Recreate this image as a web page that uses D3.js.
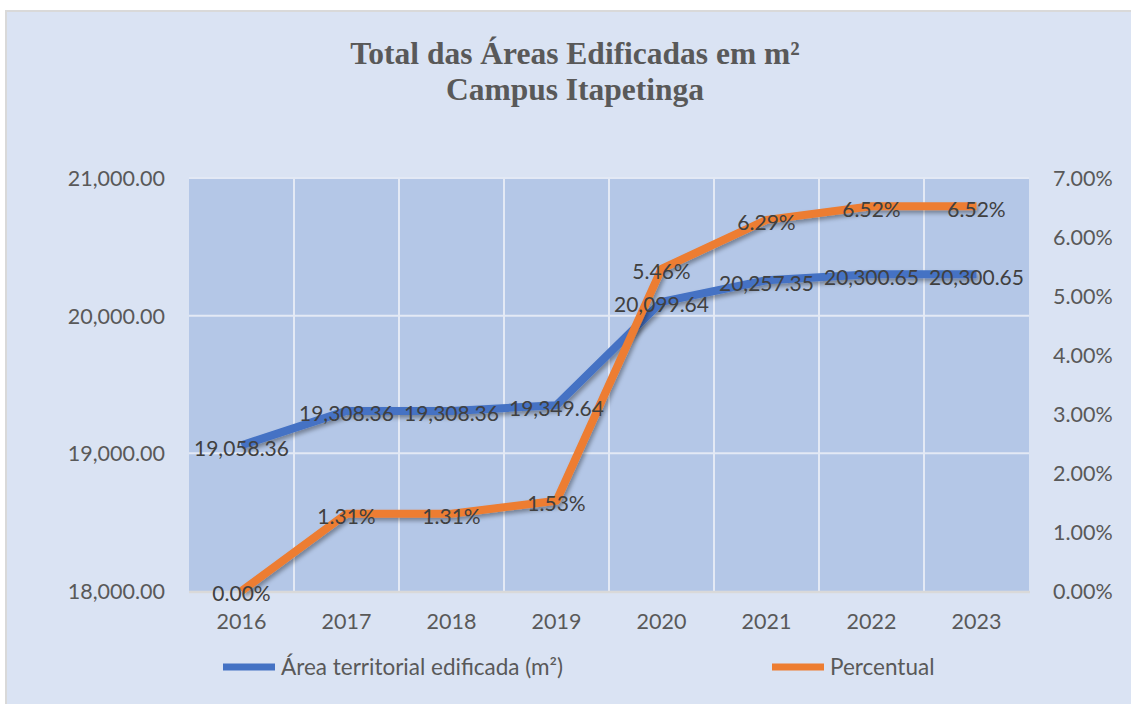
<!DOCTYPE html>
<html><head><meta charset="utf-8">
<script src="https://cdn.jsdelivr.net/npm/d3@7"></script>
<style>
html,body{margin:0;padding:0;background:#fff;}
svg{display:block;}
</style></head>
<body>
<svg id="chart" width="1131" height="704"></svg>
<script>
const categories = ["2016","2017","2018","2019","2020","2021","2022","2023"];
const areaValues = [19058.36, 19308.36, 19308.36, 19349.64, 20099.64, 20257.35, 20300.65, 20300.65];
const percentValues = [0.00, 1.31, 1.31, 1.53, 5.46, 6.29, 6.52, 6.52];
const leftTicks = [18000, 19000, 20000, 21000];
const rightTicks = [0, 1, 2, 3, 4, 5, 6, 7];
const titleLines = ["Total das Áreas Edificadas em m²", "Campus Itapetinga"];
const seriesNames = ["Área territorial edificada (m²)", "Percentual"];

const svg = d3.select("#chart");
const W = 1131, H = 704;
const plot = {left: 189, right: 1029, top: 178, bottom: 591};
const font = "Lato, 'Open Sans', sans-serif";
const fs = 21.5;

// defs: shadow
const defs = svg.append("defs");
const f = defs.append("filter").attr("id","shadow").attr("x","-10%").attr("y","-10%").attr("width","130%").attr("height","130%");
f.append("feDropShadow").attr("dx",2).attr("dy",3).attr("stdDeviation",2.2).attr("flood-color","#000").attr("flood-opacity",0.35);

// chart background
svg.append("rect").attr("x",6).attr("y",11).attr("width",W).attr("height",H)
  .attr("fill","#DAE3F3").attr("stroke","#D9D9D9").attr("stroke-width",2);

// title
svg.append("g").selectAll("text").data(titleLines).join("text")
  .attr("x",575).attr("y",(d,i)=>64+i*36)
  .attr("text-anchor","middle")
  .attr("font-family","'Liberation Serif','Times New Roman',serif")
  .attr("font-weight","bold").attr("font-size",31.5).attr("fill","#595959")
  .text(d=>d);

const x = d3.scaleBand().domain(categories).range([plot.left, plot.right]).padding(0);
const yL = d3.scaleLinear().domain([18000, 21000]).range([plot.bottom, plot.top]);
const yR = d3.scaleLinear().domain([0, 7]).range([plot.bottom, plot.top]);

// plot area
svg.append("rect").attr("x",plot.left).attr("y",plot.top)
  .attr("width",plot.right-plot.left).attr("height",plot.bottom-plot.top)
  .attr("fill","#B4C7E7");

// gridlines
const grid = svg.append("g").attr("stroke","#E3E9F5").attr("stroke-width",2);
grid.selectAll("line.h").data(leftTicks.slice(1)).join("line")
  .attr("x1",plot.left).attr("x2",plot.right)
  .attr("y1",d=>yL(d)).attr("y2",d=>yL(d));
grid.selectAll("line.v").data(categories.slice(1)).join("line")
  .attr("x1",d=>x(d)).attr("x2",d=>x(d))
  .attr("y1",plot.top).attr("y2",plot.bottom);

// bottom axis line
svg.append("line").attr("x1",plot.left).attr("x2",plot.right+1)
  .attr("y1",plot.bottom+1).attr("y2",plot.bottom+1)
  .attr("stroke","#D9D9D9").attr("stroke-width",2.5);

// left axis
const leftAxis = svg.append("g").attr("transform",`translate(${plot.left},0)`)
  .call(d3.axisLeft(yL).tickValues(leftTicks).tickFormat(d3.format(",.2f")).tickSize(0).tickPadding(24));
leftAxis.select(".domain").remove();
leftAxis.selectAll("text").attr("font-family",font).attr("font-size",fs).attr("fill","#595959").attr("dy","0.35em");

// right axis
const rightAxis = svg.append("g").attr("transform",`translate(${plot.right},0)`)
  .call(d3.axisRight(yR).tickValues(rightTicks).tickFormat(d=>d3.format(".2f")(d)+"%").tickSize(0).tickPadding(24));
rightAxis.select(".domain").remove();
rightAxis.selectAll("text").attr("font-family",font).attr("font-size",fs).attr("fill","#595959").attr("dy","0.35em");

// bottom axis
const bottomAxis = svg.append("g").attr("transform",`translate(0,${plot.bottom})`)
  .call(d3.axisBottom(x).tickSize(0).tickPadding(23));
bottomAxis.select(".domain").remove();
bottomAxis.selectAll("text").attr("font-family",font).attr("font-size",fs).attr("fill","#595959");

const cx = d => x(d) + x.bandwidth()/2;

// lines
const lineL = d3.line().x((d,i)=>cx(categories[i])).y(d=>yL(d));
const lineR = d3.line().x((d,i)=>cx(categories[i])).y(d=>yR(d));
svg.append("path").datum(areaValues).attr("d",lineL)
  .attr("fill","none").attr("stroke","#4472C4").attr("stroke-width",8)
  .attr("stroke-linejoin","round").attr("filter","url(#shadow)");
svg.append("path").datum(percentValues).attr("d",lineR)
  .attr("fill","none").attr("stroke","#ED7D31").attr("stroke-width",8)
  .attr("stroke-linejoin","round").attr("filter","url(#shadow)");

// data labels
svg.append("g").selectAll("text").data(areaValues).join("text")
  .attr("x",(d,i)=>cx(categories[i])).attr("y",d=>yL(d)+3)
  .attr("text-anchor","middle").attr("dy","0.35em")
  .attr("font-family",font).attr("font-size",21).attr("fill","#404040")
  .text(d=>d3.format(",.2f")(d));
svg.append("g").selectAll("text").data(percentValues).join("text")
  .attr("x",(d,i)=>cx(categories[i])).attr("y",d=>yR(d)+3)
  .attr("text-anchor","middle").attr("dy","0.35em")
  .attr("font-family",font).attr("font-size",21).attr("fill","#404040")
  .text(d=>d3.format(".2f")(d)+"%");

// legend
const legend = svg.append("g");
const legItems = [{name:seriesNames[0], color:"#4472C4", x:223}, {name:seriesNames[1], color:"#ED7D31", x:772}];
legItems.forEach(it=>{
  legend.append("line").attr("x1",it.x).attr("x2",it.x+52).attr("y1",667).attr("y2",667)
    .attr("stroke",it.color).attr("stroke-width",7);
  legend.append("text").attr("x",it.x+58).attr("y",667).attr("dy","0.35em")
    .attr("font-family",font).attr("font-size",22.5).attr("fill","#595959").text(it.name);
});
</script>
</body></html>
